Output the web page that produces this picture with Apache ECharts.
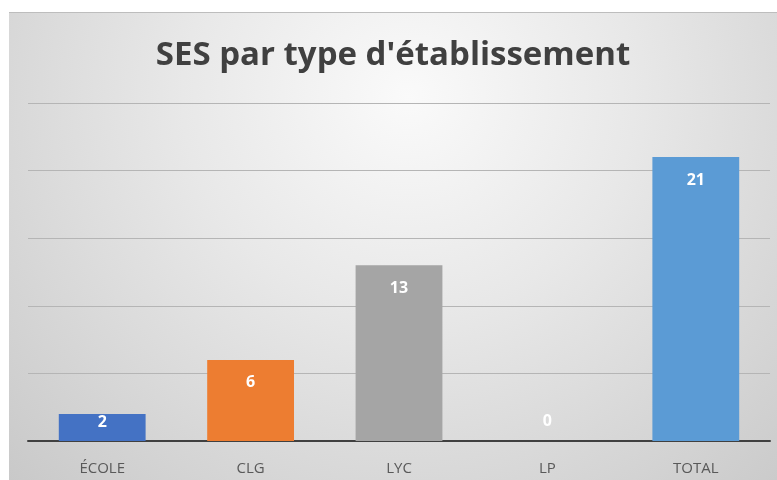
<!DOCTYPE html>
<html>
<head>
<meta charset="utf-8">
<script src="https://cdn.jsdelivr.net/npm/echarts@6/dist/echarts.min.js"></script>
<style>
html,body{margin:0;padding:0;background:#ffffff;width:777px;height:480px;overflow:hidden;}
#c{position:absolute;left:9px;top:12px;width:768px;height:468px;
background:radial-gradient(ellipse farthest-corner at 52% 18%, #fafafa 0%, #e8e8e8 40%, #c9c9c9 100%);
box-shadow: inset 0 1px 0 #bdbdbd;}
</style>
</head>
<body>
<div id="c"></div>
<script>
const titleText = "SES par type d'établissement";
const categories = ["ÉCOLE", "CLG", "LYC", "LP", "TOTAL"];
const values = [2, 6, 13, 0, 21];
const palette = ["#4472C4", "#ED7D31", "#A5A5A5", "#FFC000", "#5B9BD5"];

const chart = echarts.init(document.getElementById('c'), null, {renderer: 'canvas'});

const seriesData = values.map((v, i) => {
  let label = {position: 'insideTop', distance: 15};
  if (v === 0) label = {position: 'top', distance: 12};
  else if (v <= 2) label = {position: 'insideTop', distance: 0};
  return {value: v, itemStyle: {color: palette[i]}, label: label};
});

chart.setOption({
  animation: false,
  title: {
    text: titleText,
    left: 'center',
    top: 16,
    textStyle: {fontFamily: 'Open Sans', fontWeight: 'bold', fontSize: 33, color: '#404040', lineHeight: 45}
  },
  grid: {left: 19, right: 7, top: 91, bottom: 39, containLabel: false},
  xAxis: {
    type: 'category',
    data: categories,
    axisLine: {lineStyle: {color: '#404040', width: 2}},
    axisTick: {show: false},
    axisLabel: {color: '#595959', fontSize: 15, fontFamily: 'Open Sans', margin: 20}
  },
  yAxis: {
    type: 'value',
    min: 0, max: 25, interval: 5,
    axisLabel: {show: false},
    axisLine: {show: false},
    axisTick: {show: false},
    splitLine: {lineStyle: {color: '#b5b5b5', width: 1}}
  },
  series: [{
    type: 'bar',
    data: seriesData,
    barWidth: '58.5%',
    label: {show: true, color: '#ffffff', fontWeight: 'bold', fontSize: 16, fontFamily: 'Open Sans'}
  }]
});
</script>
</body>
</html>
